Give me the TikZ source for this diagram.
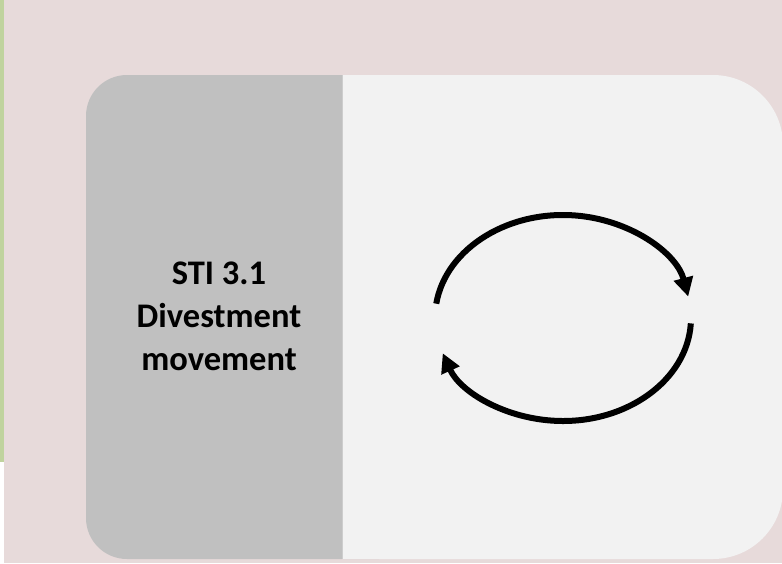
\documentclass[tikz,border=0pt]{standalone}
\usepackage{fontspec}
\setmainfont{Carlito}
\usepackage{tikz}
\usetikzlibrary{arrows.meta}

\definecolor{bgpink}{HTML}{E7DADA}
\definecolor{leafgreen}{HTML}{C0D39E}
\definecolor{titlegray}{HTML}{C0C0C0}
\definecolor{panelgray}{HTML}{F2F2F2}

\tikzstyle{titlebox} = [text centered, align=center, font=\fontsize{34.5}{43}\selectfont\bfseries]
\tikzstyle{cyclearrow} = [line width=6pt, -{Triangle[length=19pt, width=19pt]}]

\begin{document}
\begin{tikzpicture}[x=1pt, y=1pt]
\useasboundingbox (0,0) rectangle (782,-563);
\fill[white] (0,0) rectangle (782,-563);
\fill[bgpink] (4,0) rectangle (782,-563);
\fill[leafgreen] (0,0) rectangle (4,-462);

% left title panel and right content panel
\fill[titlegray, rounded corners=41pt] (86,-75) rectangle (420,-559);
\fill[panelgray] (342,-75) -- (713,-75) arc[start angle=90, end angle=0, radius=70]
  -- (783,-489) arc[start angle=0, end angle=-90, radius=70] -- (342,-559) -- cycle;
\draw[titlegray!80!white, line width=1pt] (342,-75) -- (342,-559);

\node (title) [titlebox] at (219,-316) {STI 3.1\\Divestment\\movement};

% cycle arrows
\coordinate (hub) at (563,-318);
\draw [cyclearrow] ([shift={(172:128pt and 103pt)}]hub) arc[start angle=172, end angle=12, x radius=128pt, y radius=103pt];
\draw [cyclearrow] ([shift={(-3:128pt and 103pt)}]hub) arc[start angle=-3, end angle=-160, x radius=128pt, y radius=103pt];
\end{tikzpicture}
\end{document}
